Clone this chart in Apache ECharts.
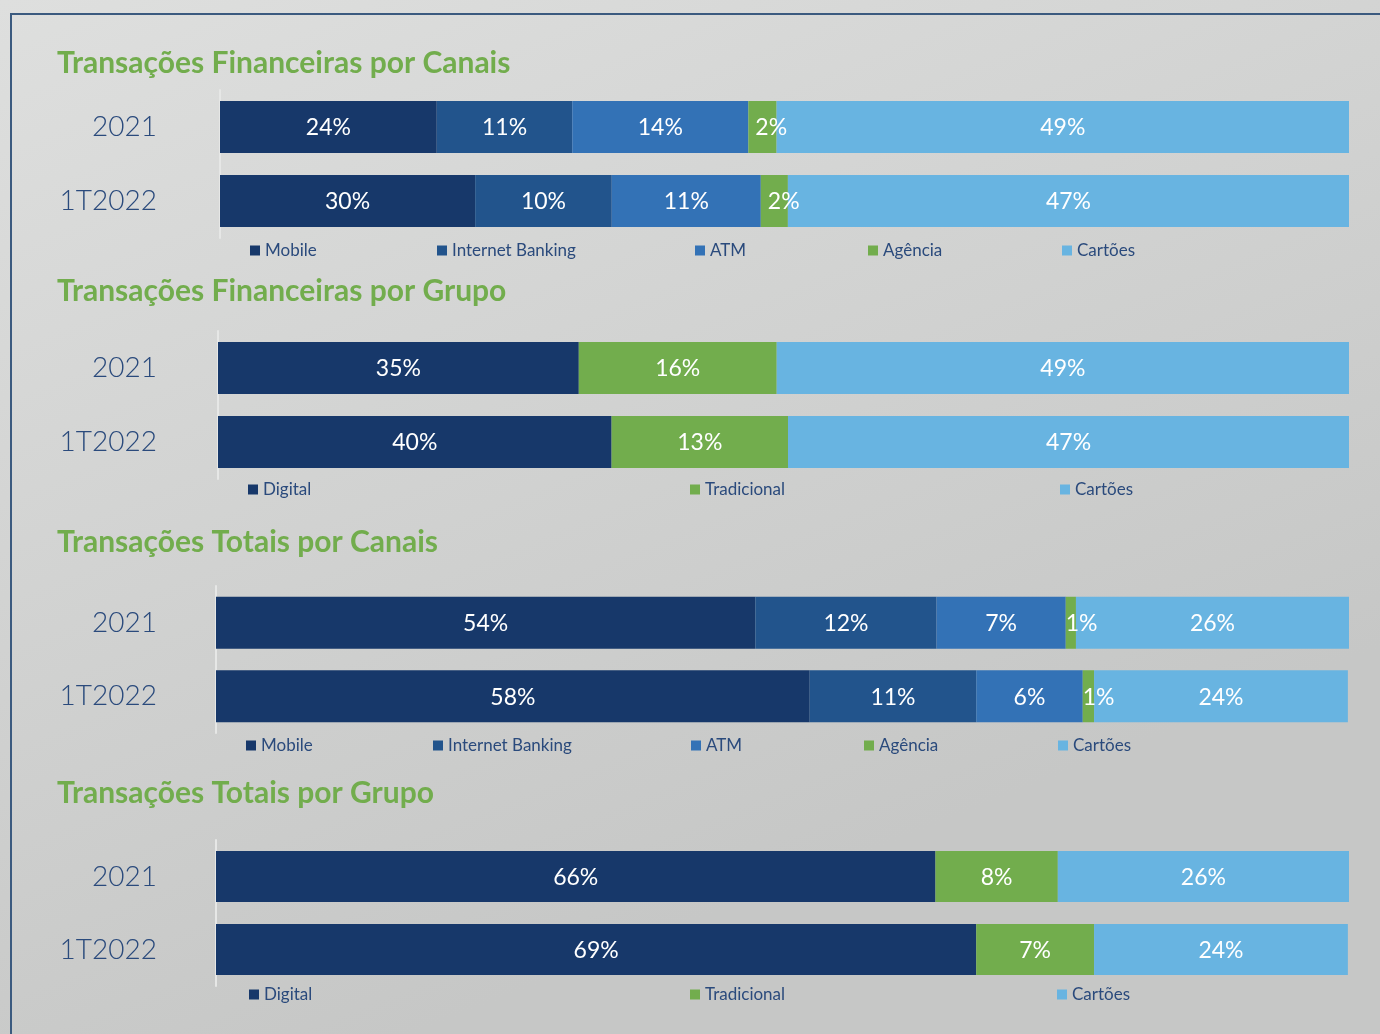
<!DOCTYPE html>
<html>
<head>
<meta charset="utf-8">
<script src="https://cdn.jsdelivr.net/npm/echarts@6/dist/echarts.min.js"></script>
<style>
  html, body { margin: 0; padding: 0; }
  #chart { width: 1380px; height: 1034px; }
</style>
</head>
<body>
<div id="chart"></div>
<script>
// categorias (linhas)
var categories = ['2021', '1T2022'];
var canaisNames = ['Mobile', 'Internet Banking', 'ATM', 'Agência', 'Cartões'];
var grupoNames = ['Digital', 'Tradicional', 'Cartões'];

// comprimento das barras (% da barra) e rótulo impresso (%)
// uma linha por série: [2021, 1T2022]
var finCanaisShares = [[19.2, 22.6], [12.0, 12.1], [15.6, 13.2], [2.5, 2.4], [50.7, 49.7]];
var finCanaisPct = [[24, 30], [11, 10], [14, 11], [2, 2], [49, 47]];

var finGrupoShares = [[31.9, 34.8], [17.5, 15.6], [50.6, 49.6]];
var finGrupoPct = [[35, 40], [16, 13], [49, 47]];

var totCanaisShares = [[47.6, 52.4], [16.0, 14.7], [11.4, 9.4], [0.9, 1.0], [24.2, 22.4]];
var totCanaisPct = [[54, 58], [12, 11], [7, 6], [1, 1], [26, 24]];

var totGrupoShares = [[63.5, 67.1], [10.8, 10.4], [25.7, 22.4]];
var totGrupoPct = [[66, 69], [8, 7], [26, 24]];

var canaisColors = ['#17386a', '#22548c', '#3372b6', '#72ad4d', '#68b4e1'];
var grupoColors = ['#17386a', '#72ad4d', '#68b4e1'];

var FONT = 'Lato';
var TEXT_BLUE = '#2a4a7c';

var panels = [
    { title: 'Transações Financeiras por Canais', titleMid: 62, names: canaisNames, colors: canaisColors,
      shares: finCanaisShares, pct: finCanaisPct, left: 220, top: 90, height: 148, barW: 52,
      legendMid: 249, legendLeft: [250, 437, 695, 868, 1062], smallDist: 7 },
    { title: 'Transações Financeiras por Grupo', titleMid: 290, names: grupoNames, colors: grupoColors,
      shares: finGrupoShares, pct: finGrupoPct, left: 218, top: 331, height: 148, barW: 52,
      legendMid: 488, legendLeft: [248, 690, 1060] },
    { title: 'Transações Totais por Canais', titleMid: 541, names: canaisNames, colors: canaisColors,
      shares: totCanaisShares, pct: totCanaisPct, left: 216, top: 586, height: 147, barW: 52,
      legendMid: 744, legendLeft: [246, 433, 691, 864, 1058], smallDist: 0 },
    { title: 'Transações Totais por Grupo', titleMid: 792, names: grupoNames, colors: grupoColors,
      shares: totGrupoShares, pct: totGrupoPct, left: 216, top: 840, height: 146, barW: 51,
      legendMid: 993, legendLeft: [249, 690, 1057] }
];

var chart = echarts.init(document.getElementById('chart'));

var title = [], grid = [], xAxis = [], yAxis = [], series = [], legend = [];

panels.forEach(function (p, i) {
    title.push({
        text: p.title,
        left: 52,
        top: p.titleMid - 19,
        textStyle: { fontFamily: FONT, fontSize: 30, fontWeight: 'bold', color: '#72ad4d' }
    });
    grid.push({ left: p.left, right: 31, top: p.top, height: p.height });
    xAxis.push({ gridIndex: i, type: 'value', min: 0, max: 100, show: false });
    yAxis.push({
        gridIndex: i,
        type: 'category',
        data: categories,
        inverse: true,
        axisLine: { show: true, lineStyle: { color: '#e6e7e6', width: 2 } },
        axisTick: { show: false },
        splitLine: { show: false },
        axisLabel: { margin: p.left - 157, fontFamily: FONT, fontSize: 28, fontWeight: 300, color: TEXT_BLUE }
    });
    p.names.forEach(function (name, j) {
        var small = name === 'Agência';
        series.push({
            name: name,
            type: 'bar',
            stack: 'panel' + i,
            xAxisIndex: i,
            yAxisIndex: i,
            barWidth: p.barW,
            data: p.shares[j],
            itemStyle: { color: p.colors[j] },
            label: {
                show: true,
                position: small ? 'insideLeft' : 'inside',
                distance: small ? p.smallDist : 5,
                offset: [0, 1],
                fontFamily: FONT,
                fontSize: 23,
                color: '#ffffff',
                formatter: function (d) { return p.pct[j][d.dataIndex] + '%'; }
            },
            emphasis: { disabled: true }
        });
        legend.push({
            data: [name],
            left: p.legendLeft[j],
            top: p.legendMid - 7,
            padding: 0,
            icon: 'rect',
            itemWidth: 10,
            itemHeight: 10,
            selectedMode: false,
            textStyle: { fontFamily: FONT, fontSize: 17, color: TEXT_BLUE }
        });
    });
});

var option = {
    backgroundColor: new echarts.graphic.LinearGradient(0, 0, 0.3, 1, [
        { offset: 0, color: '#dedfde' },
        { offset: 1, color: '#c6c7c6' }
    ]),
    animation: false,
    title: title,
    grid: grid,
    xAxis: xAxis,
    yAxis: yAxis,
    legend: legend,
    series: series,
    graphic: [{
        type: 'polyline',
        shape: { points: [[11, 1034], [11, 14], [1380, 14]] },
        style: { stroke: '#3b5a7f', lineWidth: 2, fill: null }
    }]
};

chart.setOption(option);
</script>
</body>
</html>
